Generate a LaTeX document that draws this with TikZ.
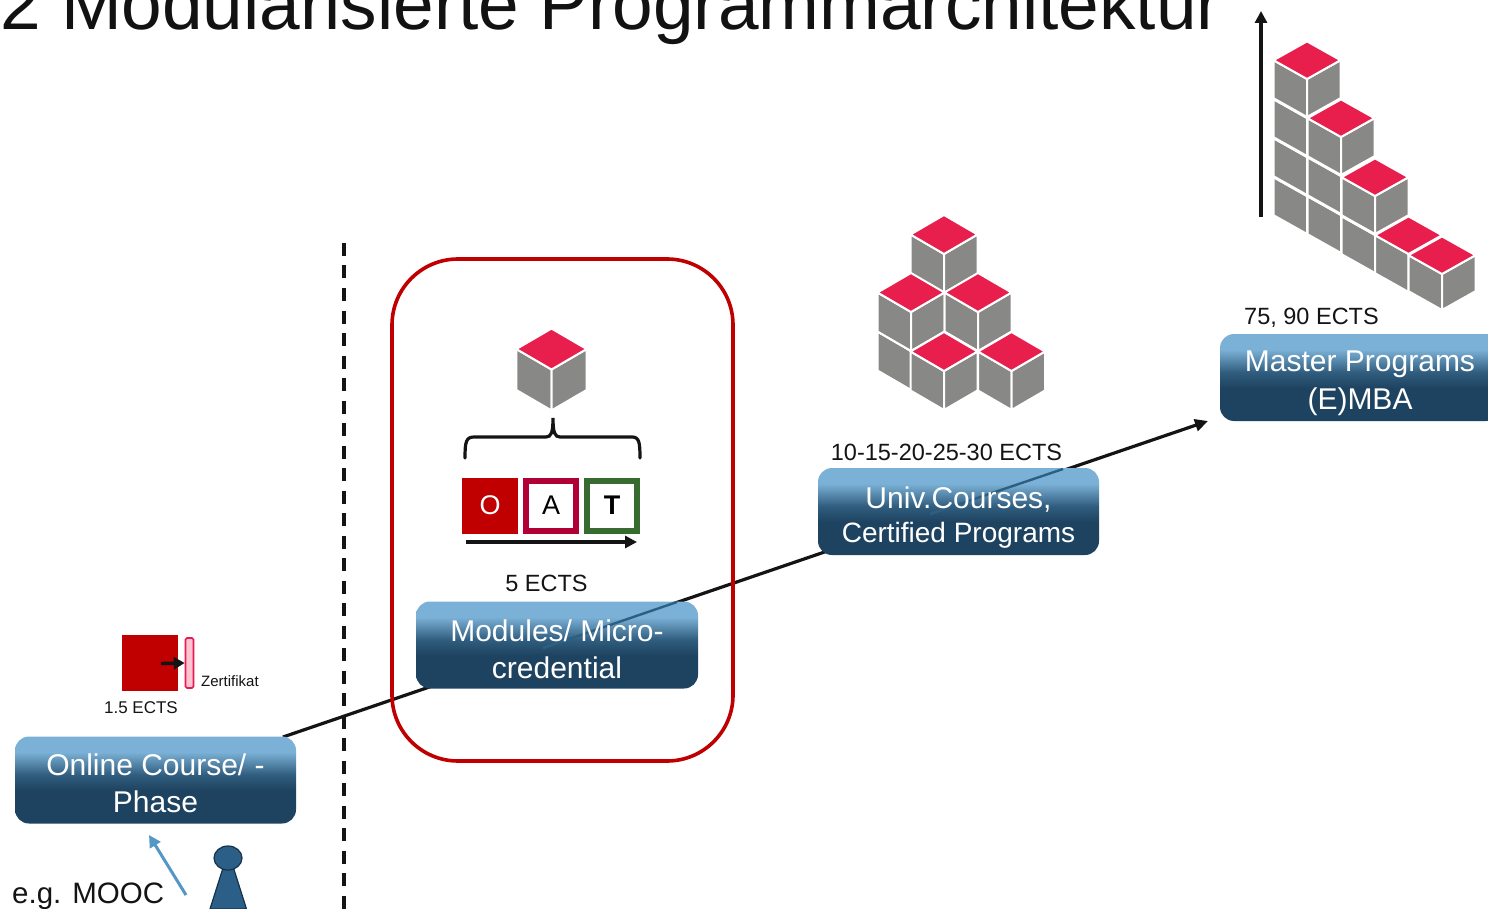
\documentclass[tikz,border=0pt]{standalone}
\usepackage{fontspec}
\setmainfont{Liberation Sans}
\usetikzlibrary{arrows.meta}
\definecolor{cubered}{HTML}{E81F4D}
\definecolor{cubegrey}{HTML}{888886}
\definecolor{darkred}{HTML}{C00000}
\definecolor{wine}{HTML}{B00036}
\definecolor{leaf}{HTML}{376B30}
\definecolor{ghost}{HTML}{2C5F82}
\definecolor{boxbot}{HTML}{1E4360}
\definecolor{boxmid}{HTML}{305D7E}
\definecolor{boxtop}{HTML}{7BB1D6}
\definecolor{certedge}{HTML}{EB1950}
\definecolor{certfill}{HTML}{FFC4D2}
\definecolor{ptrblue}{HTML}{5496C6}
\definecolor{pawnfill}{HTML}{2C5F87}
\definecolor{pawnedge}{HTML}{16324B}
\pgfdeclareverticalshading{boxgrad}{100bp}{
  color(0bp)=(boxbot); color(25bp)=(boxbot); color(44bp)=(boxbot); color(53bp)=(boxmid); color(66bp)=(boxtop); color(75bp)=(boxtop); color(100bp)=(boxtop)}
\def\cubeh{39}\def\cubehh{19.5}
\newcommand{\isocube}[2]{%
  \fill[cubegrey,draw=white,line width=2pt,line join=round] (#1,#2) -- ++(-33.5,-\cubehh) -- ++(0,\cubeh) -- ++(33.5,\cubehh) -- cycle;
  \fill[cubegrey,draw=white,line width=2pt,line join=round] (#1,#2) -- ++(33.5,-\cubehh) -- ++(0,\cubeh) -- ++(-33.5,\cubehh) -- cycle;
  \fill[cubered,draw=white,line width=2pt,line join=round] (#1,#2) -- ++(-33.5,-\cubehh) -- ++(33.5,-\cubehh) -- ++(33.5,\cubehh) -- cycle;}
\tikzset{
  x=1pt,y=-1pt,
  progbox/.style={shading=boxgrad,rounded corners=14pt,minimum height=87pt,inner sep=0pt},
  boxtext/.style={text=white,align=center,inner sep=0pt},
  label30/.style={font=\fontsize{30}{37.5}\selectfont},
  ects/.style={anchor=base,inner sep=0pt,font=\fontsize{23.5}{28}\selectfont,text=black!92},
  small/.style={anchor=base west,inner sep=0pt},
  oatbox/.style={minimum size=50pt,inner sep=0pt,line width=6pt,font=\fontsize{27}{30}\selectfont},
  heavyarrow/.style={draw=black!92,line width=3.2pt,-{Triangle[length=12pt,width=12pt]}},
  pawn/.style={fill=pawnfill,draw=pawnedge,line width=1.2pt},
}
\begin{document}
\begin{tikzpicture}
\clip (0,0) rectangle (1488,909);
\fill[white] (0,0) rectangle (1488,909);

% title
\node[small,font=\fontsize{73}{80}\selectfont,text=black!93] (title) at (0,30) {2 Modularisierte Programmarchitektur};

% rising connector
\coordinate (linkstart) at (283,737);
\coordinate (linkend) at (1208,421);
\draw[draw=black!92,line width=3.2pt,-{Triangle[length=13pt,width=12pt]}] (linkstart) -- (linkend);

% divider
\coordinate (divtop) at (343.7,243);
\coordinate (divbot) at (343.7,915);
\draw[black!92,line width=3.6pt,dash pattern=on 13pt off 9.5pt] (divtop) -- (divbot);

% highlight
\node[draw=darkred,line width=3.6pt,rounded corners=66pt,minimum width=341pt,minimum height=502pt,inner sep=0pt] (focus) at (562.5,510) {};

% boxes
\coordinate (ghostA1) at (677,602);
\coordinate (ghostA2) at (543,648);
\coordinate (ghostB1) at (1063,469);
\coordinate (ghostB2) at (930,514);
\node[progbox,minimum width=281pt] (online) at (155.5,780) {};
\node[progbox,minimum width=282pt,
  path picture={\draw[ghost,line width=2.4pt] (ghostA1) -- (ghostA2);}] (modules) at (557,645) {};
\node[progbox,minimum width=281pt,
  path picture={\draw[ghost,line width=2.4pt] (ghostB1) -- (ghostB2);}] (univ) at (958.5,511.5) {};
\node[progbox,minimum width=280pt] (master) at (1360,377.5) {};
\node[boxtext,label30] (onlinetext) at ([yshift=-3.5pt]online.center) {Online Course/ -\\Phase};
\node[boxtext,label30] (modulestext) at ([yshift=-4.5pt]modules.center) {Modules/ Micro-\\credential};
\node[boxtext,font=\fontsize{28}{34}\selectfont] (univtext) at ([yshift=-6.5pt]univ.center) {{\fontsize{30}{34}\selectfont Univ.Courses,}\\Certified Programs};
\node[boxtext,label30] (mastertext) at ([yshift=-6pt]master.center) {Master Programs\\(E)MBA};

% ects labels
\node[ects] (e5) at (546.5,591) {5 ECTS};
\node[ects] (e10) at (946.5,460) {10-15-20-25-30 ECTS};
\node[ects] (e75) at (1311.5,324) {75, 90 ECTS};
\node[ects,font=\fontsize{17}{20}\selectfont] (e1) at (141,713) {1.5 ECTS};
\node[small,font=\fontsize{15}{18}\selectfont,text=black!92] (zert) at (201,686) {Zertifikat};
\node[small,font=\fontsize{29.5}{36}\selectfont,text=black!92] (mooc) at (12,903) {e.g. MOOC};

% certificate
\node[fill=darkred,minimum size=56pt,inner sep=0pt] (redsq) at (149.5,663) {};
\node[draw=certedge,fill=certfill,line width=1.6pt,rounded corners=1.5pt,minimum width=8pt,minimum height=50pt,inner sep=0pt] (cert) at (189.5,663) {};
\coordinate (certstart) at (161,663.5);
\draw[black!92,line width=3.4pt,-{Triangle[length=11pt,width=12pt]}] (certstart) -- (cert.west);

% learner
\coordinate (ptr1) at (186,895);
\coordinate (ptr2) at (149,835);
\draw[ptrblue,line width=3pt,-{Triangle[length=12pt,width=12pt]}] (ptr1) -- (ptr2);
\filldraw[pawn] (223,868) -- (233.5,868) -- (246.5,909) -- (210,909) -- cycle;
\filldraw[pawn] (228,858) ellipse [x radius=14,y radius=12];

% OAT block
\node[fill=darkred,text=white,minimum size=56pt,inner sep=0pt,font=\fontsize{27}{30}\selectfont] (oO) at (490,505.5) {O};
\node[oatbox,draw=wine] (oA) at (551,505.5) {A};
\node[oatbox,draw=leaf,font=\fontsize{27}{30}\selectfont\bfseries] (oT) at (612,505.5) {T};
\coordinate (oat1) at (466,542);
\coordinate (oat2) at (637,542);
\draw[heavyarrow] (oat1) -- (oat2);

% brace
\draw[black!92,line width=3.2pt,line cap=round] (465,458) .. controls (465,442) and (466,437) .. (474,437) -- (546,437) .. controls (551,437) and (553,433) .. (553,418) .. controls (553,433) and (555,437) .. (560,437) -- (632,437) .. controls (639,437) and (640,442) .. (640,458);

% single cube
\begin{scope}[shift={(551.5,369.5)},scale=1.05]
\isocube{0}{0}
\end{scope}

% Univ cubes
\isocube{944}{254}
\isocube{911}{351}
\isocube{911}{312}
\isocube{978}{312}
\isocube{944}{371}
\isocube{1011.5}{371}

% Master staircase
\coordinate (up1) at (1261,217);
\coordinate (up2) at (1261,11);
\draw[heavyarrow] (up1) -- (up2);
\def\cubeh{38}\def\cubehh{18.8}
\isocube{1307}{196}\isocube{1307}{157}\isocube{1307}{118}\isocube{1307}{79}
\isocube{1341}{215}\isocube{1341}{176}\isocube{1341}{137}
\isocube{1375}{235}\isocube{1375}{196}
\isocube{1408.5}{254}
\def\cubeh{36}
\isocube{1442}{274}
\end{tikzpicture}
\end{document}
